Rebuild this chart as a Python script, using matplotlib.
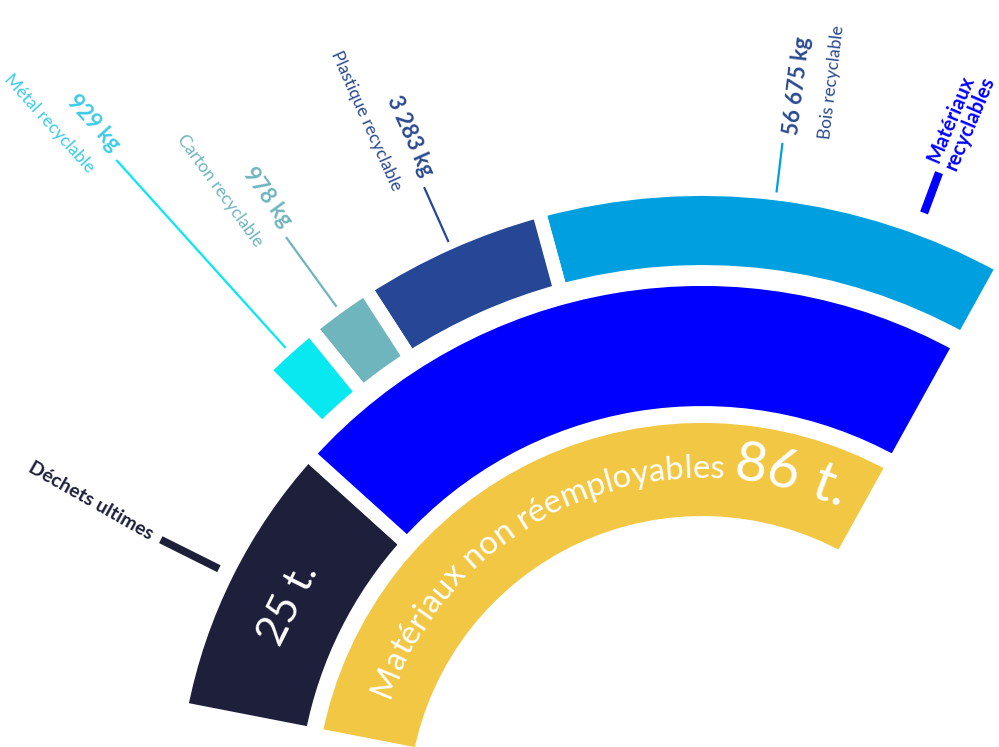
import numpy as np
import matplotlib
matplotlib.use("Agg")
import matplotlib.pyplot as plt
from matplotlib.patches import Wedge
from matplotlib.font_manager import FontProperties

# data
root_label = "Matériaux non réemployables"
root_total = "86 t."
level2_names = ["Déchets ultimes", "Matériaux recyclables"]
dechets_kg = 25000
dechets_label = "25 t."
recyc_names = ["Bois recyclable", "Plastique recyclable", "Carton recyclable", "Métal recyclable"]
recyc_kg = [56675, 3283, 978, 929]

# colours
c_root = "#F2C744"
c_dechets = "#1D1F3B"
c_recyc = "#0000FF"
c_leaf = ["#00A0E0", "#264796", "#6FB5BE", "#08E8F0"]
c_leaf_txt = ["#2B4A8F", "#2B4A8F", "#6FB5BE", "#3CCBE8"]
leader_end = [672, 682, 708, 875]   # radius where each leaf leader stops

FAM = ["Lato", "DejaVu Sans"]

W, H = 999, 747
fig = plt.figure(figsize=(W / 100, H / 100), dpi=100)
ax = fig.add_axes([0, 0, 1, 1])
ax.set_xlim(0, W)
ax.set_ylim(0, H)
ax.axis("off")

cx, cy = 702, H - 810
A_END, A_START = 61.0, 169.0
span = A_START - A_END
gap = 10  # white stroke (pt)

def polar(r, a):
    t = np.radians(a)
    return cx + r * np.cos(t), cy + r * np.sin(t)

# inner ring: root
ax.add_patch(Wedge((cx, cy), 394, A_END, A_START, width=107,
                   fc=c_root, ec="white", lw=gap))

# middle ring
recyc_total = sum(recyc_kg)
a_split = A_START - span * dechets_kg / (dechets_kg + recyc_total)
ax.add_patch(Wedge((cx, cy), 531, a_split, A_START, width=134,
                   fc=c_dechets, ec="white", lw=gap))
ax.add_patch(Wedge((cx, cy), 531, A_END, a_split, width=134,
                   fc=c_recyc, ec="white", lw=gap))

# outer ring (log scaled so the small ones stay visible)
weights = np.log(np.array(recyc_kg) / 500.0)
fr = weights / weights.sum()
a_leaf_end = a_split - 3.0
edges = A_END + np.concatenate([[0], np.cumsum(fr)]) * (a_leaf_end - A_END)
for i in range(len(recyc_kg)):
    ax.add_patch(Wedge((cx, cy), 621, edges[i], edges[i + 1], width=83,
                       fc=c_leaf[i], ec="white", lw=gap))

# leaf labels
for i, (name, kg) in enumerate(zip(recyc_names, recyc_kg)):
    a = (edges[i] + edges[i + 1]) / 2
    x0, y0 = polar(622, a)
    x1, y1 = polar(leader_end[i], a)
    ax.plot([x0, x1], [y0, y1], color=c_leaf[i], lw=1.6, solid_capstyle="butt")
    if a <= 90:
        rot, ha, side = a, "left", 1
    else:
        rot, ha, side = a - 180, "right", -1
    tr = np.radians(rot)
    down = np.array([np.sin(tr), -np.cos(tr)])
    p = np.array(polar(leader_end[i] + 9, a))
    pv = p + down * 8 * side
    pn = pv + down * 34
    val = f"{kg:,}".replace(",", " ") + " kg"
    ax.text(pv[0], pv[1], val, rotation=rot, rotation_mode="anchor", ha=ha, va="center",
            fontsize=16, fontweight="bold", color=c_leaf_txt[i], family=FAM)
    ax.text(pn[0], pn[1], name, rotation=rot, rotation_mode="anchor", ha=ha, va="center",
            fontsize=12.5, fontweight="normal", color=c_leaf_txt[i], family=FAM)

# middle ring labels
a_d = (a_split + A_START) / 2
x0, y0 = polar(540, a_d)
x1, y1 = polar(605, a_d)
ax.plot([x0, x1], [y0, y1], color=c_dechets, lw=5.5, solid_capstyle="butt")
px, py = polar(615, a_d)
ax.text(px, py, level2_names[0], rotation=a_d - 183, rotation_mode="anchor",
        ha="right", va="center", fontsize=14, fontweight="bold", color=c_dechets, family=FAM)
px, py = polar(462, a_d)
ax.text(px, py, dechets_label, rotation=a_d - 90, rotation_mode="anchor",
        ha="center", va="center", fontsize=31, fontweight="normal", color="white", family=FAM)

a_r = 69.6
x0, y0 = polar(637, a_r)
x1, y1 = polar(680, a_r)
ax.plot([x0, x1], [y0, y1], color=c_recyc, lw=6, solid_capstyle="butt")
px, py = polar(688, a_r)
ax.text(px, py, "Matériaux\nrecyclables", rotation=a_r - 2.5, rotation_mode="anchor",
        ha="left", va="center", fontsize=14.5, fontweight="bold", color=c_recyc,
        family=FAM, linespacing=1.0)

# curved root label
renderer = fig.canvas.get_renderer()

def width(s, fp):
    t = ax.text(0, 0, s, fontproperties=fp)
    w = t.get_window_extent(renderer).width
    t.remove()
    return w

def arc_text(pieces, r, a0):
    off = 0.0
    for s, fp in pieces:
        base = width("x", fp)
        adv = [0.0] + [width(s[:k + 1] + "x", fp) - base for k in range(len(s))]
        for k, ch in enumerate(s):
            if ch == " ":
                continue
            mid = off + (adv[k] + adv[k + 1]) / 2
            a = a0 - np.degrees(mid / r)
            x, y = polar(r, a)
            ax.text(x, y, ch, rotation=a - 90, rotation_mode="anchor", ha="center",
                    va="baseline", fontproperties=fp, color="white")
        off += adv[-1]

fp_small = FontProperties(family=FAM, weight="normal", size=23.8)
fp_big = FontProperties(family=FAM, weight="normal", size=40)
arc_text([(root_label + " ", fp_small), (root_total, fp_big)], 332, 160.5)

fig.savefig("out.png", dpi=100)
